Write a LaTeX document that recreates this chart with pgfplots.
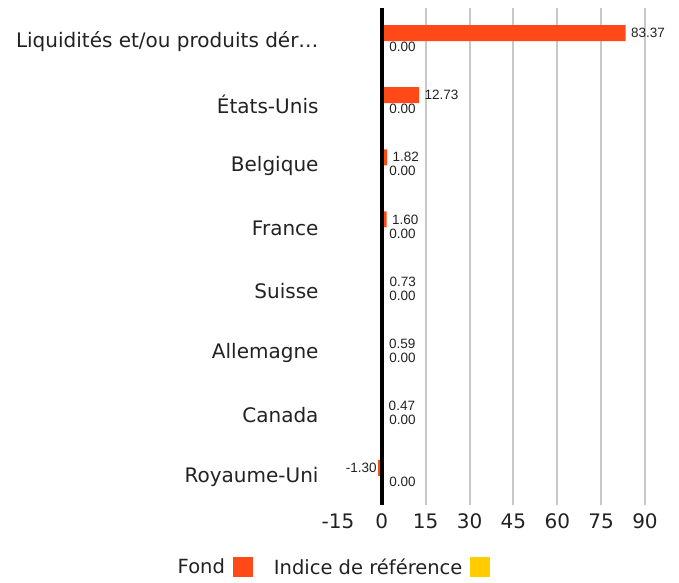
\documentclass[border=0pt]{standalone}
\usepackage{pgfplots}
\pgfplotsset{compat=1.18}
\usepackage{fontspec}
\setmainfont{DejaVu Sans}
\newfontfamily\valfont{Liberation Sans}
\definecolor{fund}{HTML}{FF4A17}
\definecolor{bench}{HTML}{FFCC00}
\definecolor{txt}{HTML}{222222}
\definecolor{gridc}{HTML}{C8C8C8}
\begin{document}
\begin{tikzpicture}
\path[use as bounding box] (-338bp,-78bp) rectangle (341bp,505bp);
\begin{axis}[
  at={(0,0)}, anchor=south west,
  scale only axis, width=307bp, height=497bp,
  xmin=-15, xmax=90, ymin=-0.5, ymax=7.5,
  xbar, bar width=16bp,
  axis line style={draw=none},
  major tick length=0pt,
  xtick={0,15,30,45,60,75,90},
  extra x ticks={-15},
  extra x tick style={grid=none},
  xmajorgrids,
  major grid style={gridc, line width=2bp},
  ytick={0,1,2,3,4,5,6,7},
  yticklabels={Royaume-Uni, Canada, Allemagne, Suisse, France, Belgique, États-Unis, {Liquidités et/ou produits dér\ldots}},
  yticklabel style={font=\fontsize{20bp}{22bp}\selectfont, text=txt, xshift=-16bp, yshift=-3bp},
  xticklabel style={font=\fontsize{20bp}{24bp}\selectfont, text=txt, yshift=-5bp},
  /pgf/number format/assume math mode=true,
  clip=false,
  nodes near coords,
  point meta=x,
  nodes near coords style={font=\valfont\fontsize{13.5bp}{16bp}\selectfont, text=txt,
    /pgf/number format/fixed, /pgf/number format/fixed zerofill, /pgf/number format/precision=2,
    /pgf/number format/assume math mode=true},
  legend plot pos=right,
  legend columns=2,
  legend style={draw=none, fill=none, at={(axis description cs:-0.016,-0.1247)}, anchor=center,
    font=\fontsize{19.5bp}{24bp}\selectfont, text=txt,
    /tikz/every even column/.append style={column sep=19bp}},
  legend image code/.code={\path (-2bp,0bp) -- (0bp,0bp); \fill[#1, draw=none] (4bp,-10bp) rectangle (24bp,10bp);},
]
\addplot[fill=fund, draw=none, bar shift=6bp, every node near coord/.append style={xshift=2bp}] coordinates {
  (-1.30,0) (0.47,1) (0.59,2) (0.73,3) (1.60,4) (1.82,5) (12.73,6) (83.37,7)};
\addlegendentry{Fond}
\addplot[fill=bench, draw=none, bar shift=-8bp, every node near coord/.append style={xshift=4bp}] coordinates {
  (0,0) (0,1) (0,2) (0,3) (0,4) (0,5) (0,6) (0,7)};
\addlegendentry{Indice de référence}
\draw[black, line width=4bp] (axis cs:0,-0.5) -- (axis cs:0,7.5);
\end{axis}
\end{tikzpicture}
\end{document}
